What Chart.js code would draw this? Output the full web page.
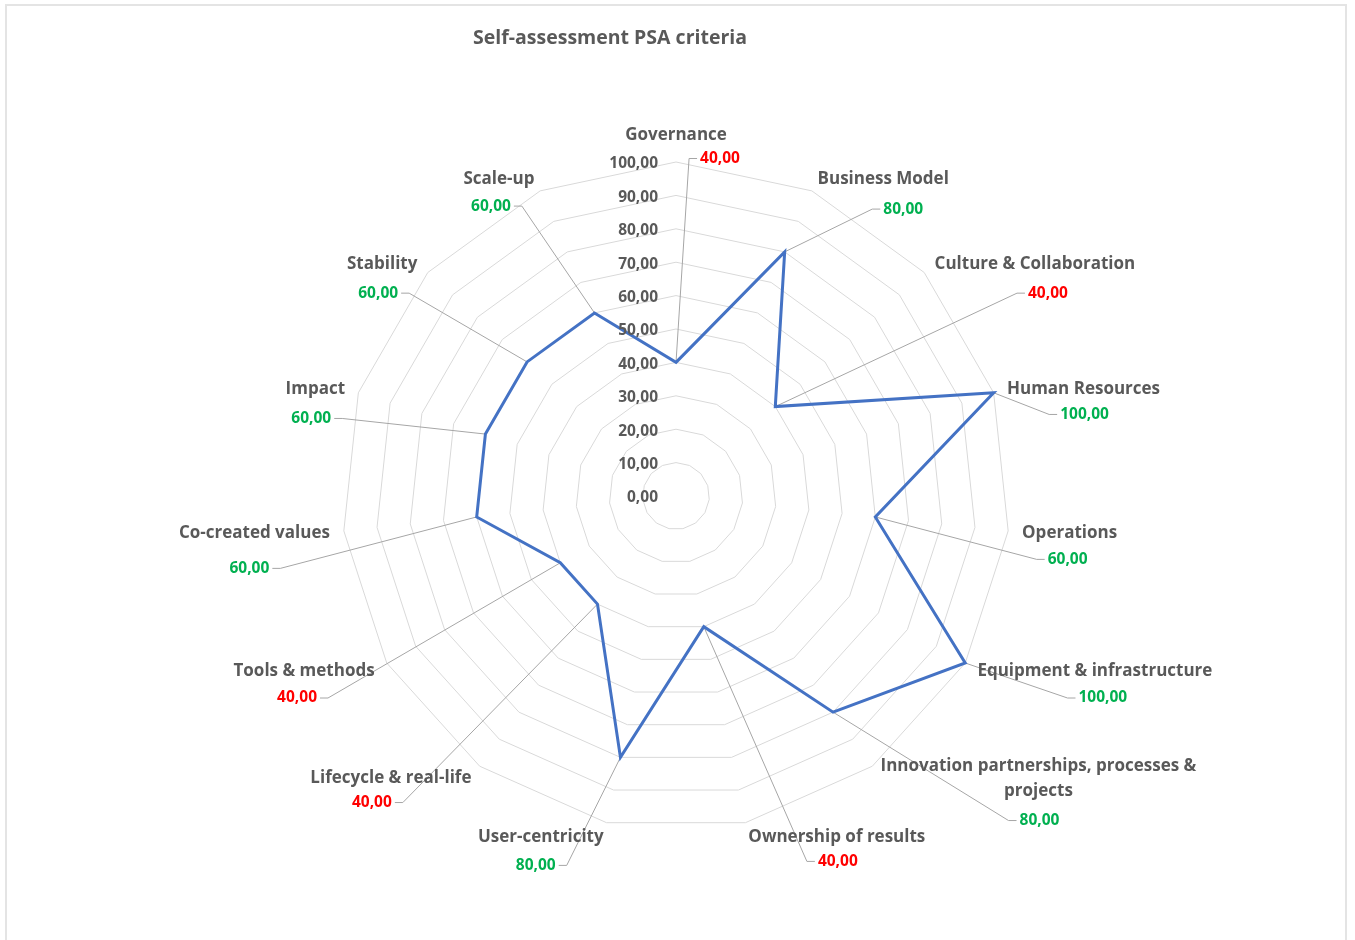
<!DOCTYPE html>
<html>
<head>
<meta charset="utf-8">
<title>Self-assessment PSA criteria</title>
<script src="https://cdn.jsdelivr.net/npm/chart.js@4.4.0/dist/chart.umd.min.js"></script>
<style>
  html, body { margin: 0; padding: 0; background: #ffffff; }
  #wrap { position: relative; width: 1355px; height: 940px; overflow: hidden; }
  #frame { position: absolute; left: 5px; top: 4px; width: 1338px; height: 980px;
           border: 2px solid #e4e4e4; pointer-events: none; }
  canvas { position: absolute; left: 0; top: 0; }
</style>
</head>
<body>
<div id="wrap">
  <canvas id="psa" width="1355" height="940"></canvas>
  <div id="frame"></div>
</div>
<script>
const chartTitle = 'Self-assessment PSA criteria';

const categories = [
  'Governance',
  'Business Model',
  'Culture & Collaboration',
  'Human Resources',
  'Operations',
  'Equipment & infrastructure',
  ['Innovation partnerships, processes &', 'projects'],
  'Ownership of results',
  'User-centricity',
  'Lifecycle & real-life',
  'Tools & methods',
  'Co-created values',
  'Impact',
  'Stability',
  'Scale-up'
];

const scores = [40, 80, 40, 100, 60, 100, 80, 40, 80, 40, 40, 60, 60, 60, 60];

const tickValues = [0, 10, 20, 30, 40, 50, 60, 70, 80, 90, 100];

// where each value label sits relative to the centre of its category label [dx, dy]
const valueLabelShift = [
  [44, 23], [20, 30], [13, 29], [1, 25], [-2, 26], [8, 27], [1, 42], [1, 24],
  [-5, 28], [-19, 24], [-7, 27], [-5, 35], [-4, 29], [-4, 29], [-8, 27]
];

const FONT = '"Open Sans", Lato, sans-serif';
const CAT_FONT = `bold 17px ${FONT}`;
const NUM_FONT = `bold 15.5px ${FONT}`;
const TITLE_FONT = `bold 19.5px ${FONT}`;
const GREY = '#595959';
const LOW = '#FF0000';
const HIGH = '#00B050';
const fmt = v => v.toFixed(2).replace('.', ',');

function categoryBoxes(chart) {
  const r = chart.scales.r;
  const ctx = chart.ctx;
  ctx.save();
  ctx.font = CAT_FONT;
  const lh = 25;
  const boxes = categories.map((lab, i) => {
    const lines = Array.isArray(lab) ? lab : [lab];
    const a = r.getIndexAngle(i);
    const s = Math.sin(a), c = Math.cos(a);
    const p = r.getPointPosition(i, r.drawingArea + 14);
    const width = Math.max(...lines.map(l => ctx.measureText(l).width));
    const h = lines.length * lh;
    let left;
    if (Math.abs(s) < 0.01) left = p.x - width / 2;
    else if (s > 0) left = p.x;
    else left = p.x - width;
    let midY = p.y + 1;
    if (Math.abs(s) < 0.01) midY = c > 0 ? p.y - h / 2 : p.y + h / 2;
    return { lines, left, width, midY, lh, h };
  });
  ctx.restore();
  return boxes;
}

function valueBoxes(chart, cats) {
  const ctx = chart.ctx;
  ctx.save();
  ctx.font = NUM_FONT;
  const out = scores.map((v, i) => {
    const b = cats[i];
    const text = fmt(v);
    const w = ctx.measureText(text).width;
    const cx = b.left + b.width / 2 + valueLabelShift[i][0];
    const cy = b.midY + valueLabelShift[i][1];
    return { text, w, cx, cy, color: v < 50 ? LOW : HIGH };
  });
  ctx.restore();
  return out;
}

const radarDecor = {
  id: 'radarDecor',
  beforeDatasetsDraw(chart) {
    const ctx = chart.ctx;
    const meta = chart.getDatasetMeta(0);
    const vals = valueBoxes(chart, categoryBoxes(chart));
    ctx.save();
    ctx.strokeStyle = '#a6a6a6';
    ctx.lineWidth = 1;
    vals.forEach((lb, i) => {
      const pt = meta.data[i];
      let endX, bendX;
      if (lb.cx >= pt.x) { endX = lb.cx - lb.w / 2 - 3; bendX = endX - 8; }
      else { endX = lb.cx + lb.w / 2 + 3; bendX = endX + 8; }
      ctx.beginPath();
      ctx.moveTo(pt.x, pt.y);
      ctx.lineTo(bendX, lb.cy);
      ctx.lineTo(endX, lb.cy);
      ctx.stroke();
    });
    ctx.restore();
  },
  afterDraw(chart) {
    const ctx = chart.ctx;
    const r = chart.scales.r;
    ctx.save();

    // title
    ctx.fillStyle = GREY;
    ctx.font = TITLE_FONT;
    ctx.textAlign = 'center';
    ctx.textBaseline = 'middle';
    ctx.fillText(chartTitle, 610, 38);

    // radial tick labels, left of the vertical axis
    ctx.font = NUM_FONT;
    ctx.textAlign = 'right';
    r.ticks.forEach(t => {
      const d = r.getDistanceFromCenterForValue(t.value);
      ctx.fillText(fmt(t.value), r.xCenter - 18, r.yCenter - d + 2);
    });

    // category labels
    const cats = categoryBoxes(chart);
    ctx.font = CAT_FONT;
    ctx.textAlign = 'center';
    cats.forEach(b => {
      b.lines.forEach((line, k) => {
        ctx.fillText(line, b.left + b.width / 2, b.midY - b.h / 2 + b.lh * (k + 0.5));
      });
    });

    // value labels
    ctx.font = NUM_FONT;
    valueBoxes(chart, cats).forEach(lb => {
      ctx.fillStyle = lb.color;
      ctx.fillText(lb.text, lb.cx, lb.cy);
    });
    ctx.restore();
  }
};

new Chart(document.getElementById('psa'), {
  type: 'radar',
  data: {
    labels: categories,
    datasets: [{
      label: 'Score',
      data: scores,
      borderColor: '#4472C4',
      backgroundColor: 'rgba(0,0,0,0)',
      borderWidth: 3,
      borderJoinStyle: 'miter',
      fill: false,
      tension: 0,
      pointRadius: 0,
      pointHoverRadius: 0
    }]
  },
  options: {
    responsive: false,
    animation: false,
    devicePixelRatio: 1,
    events: [],
    layout: { padding: { top: 162, bottom: 110, left: 20, right: 23 } },
    plugins: {
      legend: { display: false },
      title: { display: false },
      tooltip: { enabled: false }
    },
    scales: {
      r: {
        min: 0,
        max: 100,
        afterBuildTicks: scale => { scale.ticks = tickValues.map(v => ({ value: v })); },
        ticks: { display: false },
        pointLabels: { display: false },
        angleLines: { display: false },
        grid: { color: '#d9d9d9', lineWidth: 1 }
      }
    }
  },
  plugins: [radarDecor]
});
</script>
</body>
</html>
